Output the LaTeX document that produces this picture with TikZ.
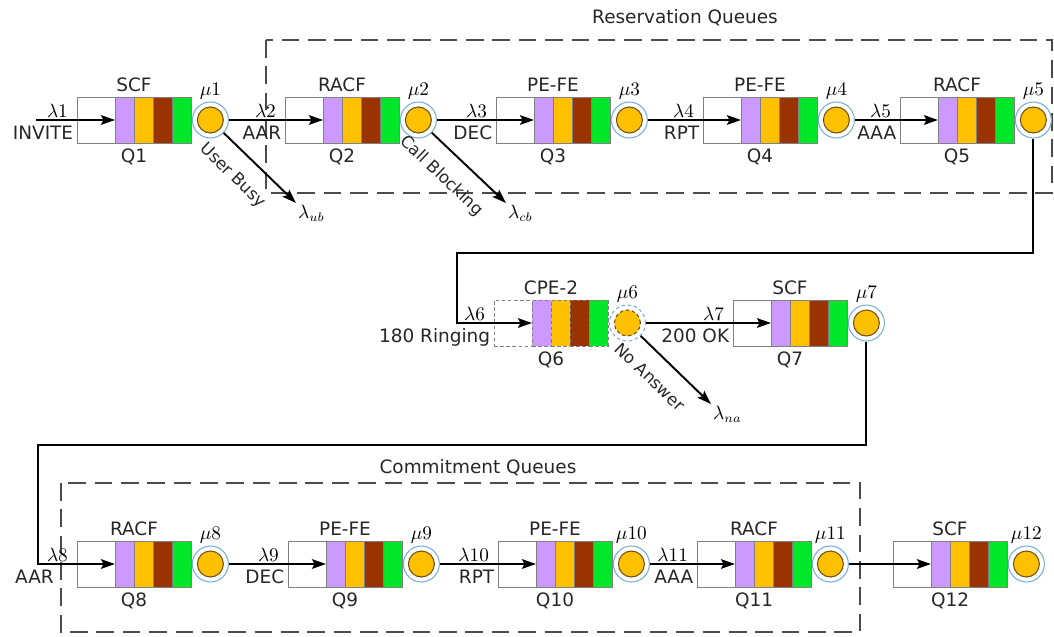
\documentclass[tikz,border=0pt]{standalone}
\usepackage[no-math]{fontspec}
\setmainfont{DejaVu Sans}
\usetikzlibrary{positioning,calc,arrows.meta}

\definecolor{qpurple}{RGB}{204,153,255}
\definecolor{qorange}{RGB}{255,192,0}
\definecolor{qbrown}{RGB}{153,51,0}
\definecolor{qgreen}{RGB}{0,230,40}
\definecolor{qgrey}{RGB}{128,128,128}
\definecolor{qring}{RGB}{120,175,215}
\definecolor{qcore}{RGB}{110,80,20}

% one queue: buffer, four stripes, server, labels
% #1 extra style, #2 id, #3 x, #4 y, #5 top, #6 bottom, #7 rate
\newcommand{\qstation}[7][]{%
  \node[buf,#1,anchor=west] (#2-b) at (#3,#4) {};
  \node[stripe,#1,fill=qpurple,right=0pt of #2-b] (#2-1) {};
  \node[stripe,#1,fill=qorange,right=0pt of #2-1] (#2-2) {};
  \node[stripe,#1,fill=qbrown,right=0pt of #2-2] (#2-3) {};
  \node[stripe,#1,fill=qgreen,right=0pt of #2-3] (#2-4) {};
  \node[srv,#1,right=0.5pt of #2-4] (#2-s) {};
  \node[core,#1] (#2-c) at (#2-s) {};
  \node[lbl,above=2pt of #2-1.north east] (#2-t) {#5};
  \node[lbl,below=2pt of #2-1.south east] (#2-q) {#6};
  \node[lam,above=0pt of #2-s] (#2-m) {#7};
}

\begin{document}
\begin{tikzpicture}[x=0.02cm, y=-0.02cm, font=\fontsize{10.5pt}{12pt}\selectfont,
    buf/.style={draw=qgrey, fill=white, minimum width=0.76cm, minimum height=0.92cm, inner sep=0pt, outer sep=0pt},
    stripe/.style={draw=qgrey, minimum width=0.38cm, minimum height=0.92cm, inner sep=0pt, outer sep=0pt},
    srv/.style={circle, draw=qring, line width=0.6pt, fill=white, minimum size=0.72cm, inner sep=0pt},
    core/.style={circle, draw=qcore, line width=0.6pt, fill=qorange, minimum size=0.52cm, inner sep=0pt},
    lbl/.style={inner sep=1pt, text=black!85},
    lam/.style={inner sep=1pt},
    drop/.style={sloped, below, pos=0.36, inner sep=9pt, text=black!85, font=\fontsize{9.5pt}{11pt}\selectfont},
    arrow/.style={-{Stealth[length=8pt,width=5.5pt,inset=1.5pt]}, line width=1.1pt},
    group/.style={draw=black!70, line width=0.8pt, dash pattern=on 10pt off 5pt},
    dashq/.style={dash pattern=on 2pt off 1.5pt}]

    \useasboundingbox (0,0) rectangle (1054,636);

    % queue groups
    \draw[group] (266,40) rectangle (1052,193);
    \node[lbl] (resv) at (685,18) {Reservation Queues};
    \draw[group] (61,483) rectangle (860,632);
    \node[lbl] (commit) at (478,468) {Commitment Queues};

    % stations
    \qstation{q1}{77}{120}{SCF}{Q1}{$\mu1$}
    \qstation{q2}{285}{120}{RACF}{Q2}{$\mu2$}
    \qstation{q3}{496}{120}{PE-FE}{Q3}{$\mu3$}
    \qstation{q4}{703}{120}{PE-FE}{Q4}{$\mu4$}
    \qstation{q5}{900}{120}{RACF}{Q5}{$\mu5$}
    \qstation[dashq]{q6}{494}{323}{CPE-2}{Q6}{$\mu6$}
    \qstation{q7}{733}{323}{SCF}{Q7}{$\mu7$}
    \qstation{q8}{77}{564}{RACF}{Q8}{$\mu8$}
    \qstation{q9}{288}{564}{PE-FE}{Q9}{$\mu9$}
    \qstation{q10}{498}{564}{PE-FE}{Q10}{$\mu10$}
    \qstation{q11}{697}{564}{RACF}{Q11}{$\mu11$}
    \qstation{q12}{893}{564}{SCF}{Q12}{$\mu12$}

    % arrival rates and messages
    \foreach \q/\n/\m/\g in {q1/1/INVITE/1pt, q2/2/AAR/1pt, q3/3/DEC/1pt, q4/4/RPT/1pt, q5/5/AAA/1pt,
        q6/6/180 Ringing/1pt, q7/7/200 OK/1pt, q8/8/AAR/12pt, q9/9/DEC/1pt, q10/10/RPT/1pt, q11/11/AAA/1pt}{
      \node[lam, above left=0pt and 4pt of \q-b.west] (lam\n) {$\lambda\n$};
      \node[lbl, below left=2pt and \g of \q-b.west] (msg\n) {\m};
    }

    % flow
    \coordinate (in1) at (36,120);
    \draw[arrow] (in1) -- (q1-1.west);
    \draw[arrow] (q1-s) -- (q2-1.west);
    \draw[arrow] (q2-s) -- (q3-1.west);
    \draw[arrow] (q3-s) -- (q4-1.west);
    \draw[arrow] (q4-s) -- (q5-1.west);
    \coordinate (bend1) at (457,253);
    \draw[arrow] (q5-s) |- (bend1) |- (q6-1.west);
    \draw[arrow] (q6-s) -- (q7-1.west);
    \coordinate (bend2) at (38,445);
    \draw[arrow] (q7-s) |- (bend2) |- (q8-1.west);
    \draw[arrow] (q8-s) -- (q9-1.west);
    \draw[arrow] (q9-s) -- (q10-1.west);
    \draw[arrow] (q10-s) -- (q11-1.west);
    \draw[arrow] (q11-s) -- (q12-1.west);

    % losses
    \node[lam, anchor=north west] (ub) at (296,203) {$\lambda_{ub}$};
    \draw[arrow] (q1-s) -- node[drop] (busy) {User Busy} (ub.north west);
    \node[lam, anchor=north west] (cb) at (506,203) {$\lambda_{cb}$};
    \draw[arrow] (q2-s) -- node[drop] (block) {Call Blocking} (cb.north west);
    \node[lam, anchor=north west] (na) at (711,404) {$\lambda_{na}$};
    \draw[arrow] (q6-s) -- node[drop] (noans) {No Answer} (na.north west);
\end{tikzpicture}
\end{document}
